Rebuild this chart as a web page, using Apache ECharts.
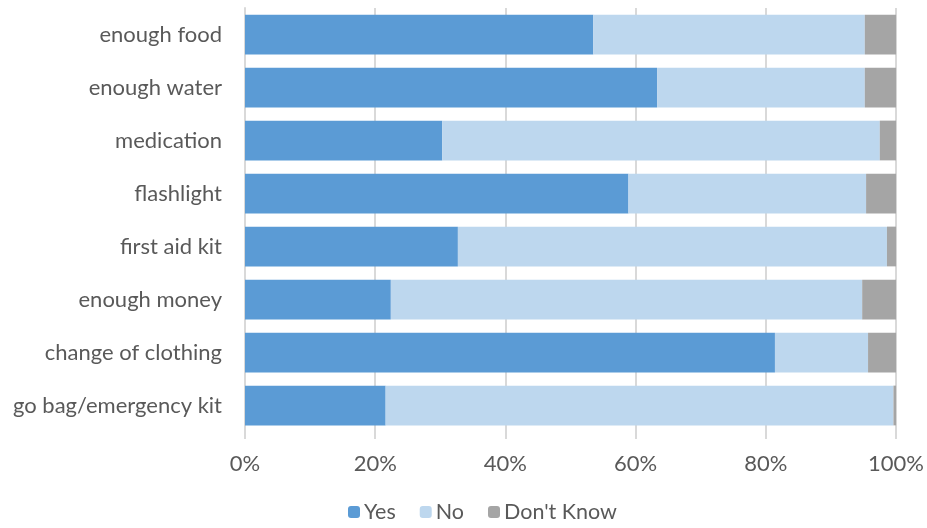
<!DOCTYPE html>
<html>
<head>
<meta charset="utf-8">
<script src="https://cdn.jsdelivr.net/npm/echarts@6/dist/echarts.min.js"></script>
<style>html,body{margin:0;padding:0;background:#fff}#c{width:927px;height:528px}</style>
</head>
<body>
<div id="c"></div>
<script>
const categories = ['go bag/emergency kit','change of clothing','enough money','first aid kit','flashlight','medication','enough water','enough food'];
const yesValues = [21.6, 81.4, 22.4, 32.7, 58.9, 30.3, 63.3, 53.5];
const noValues = [78.0, 14.3, 72.4, 65.9, 36.5, 67.2, 31.9, 41.7];
const dkValues = [0.4, 4.3, 5.2, 1.4, 4.6, 2.5, 4.8, 4.8];
const xTicks = [0, 20, 40, 60, 80, 100];

const font = 'Lato, "Open Sans", sans-serif';
const chart = echarts.init(document.getElementById('c'));
chart.setOption({
  animation: false,
  grid: {left: 245, right: 29, top: 8, bottom: 96, containLabel: false},
  legend: {
    bottom: 0, left: 343, itemWidth: 12, itemHeight: 12, itemGap: 24,
    textStyle: {fontFamily: font, fontSize: 21.5, color: '#595959', padding: [0,0,0,-1]},
    data: ['Yes','No',"Don't Know"]
  },
  xAxis: {
    type: 'value', min: xTicks[0], max: xTicks[xTicks.length-1], interval: 20,
    axisLine: {show: false},
    axisTick: {show: true, length: 7, lineStyle: {color: '#D9D9D9', width: 2}},
    splitLine: {lineStyle: {color: '#D9D9D9', width: 2}},
    axisLabel: {formatter: v => v + '%', fontFamily: font, fontSize: 22, color: '#595959', margin: 21}
  },
  yAxis: {
    type: 'category', data: categories,
    axisLine: {lineStyle: {color: '#D9D9D9', width: 2}},
    axisTick: {show: false},
    axisLabel: {fontFamily: font, fontSize: 22, color: '#595959', margin: 23}
  },
  series: [
    {name: 'Yes', type: 'bar', stack: 's', data: yesValues, barCategoryGap: '25%', itemStyle: {color: '#5B9BD5'}},
    {name: 'No', type: 'bar', stack: 's', data: noValues, itemStyle: {color: '#BDD7EE'}},
    {name: "Don't Know", type: 'bar', stack: 's', data: dkValues, itemStyle: {color: '#A5A5A5'}}
  ]
});
</script>
</body>
</html>
